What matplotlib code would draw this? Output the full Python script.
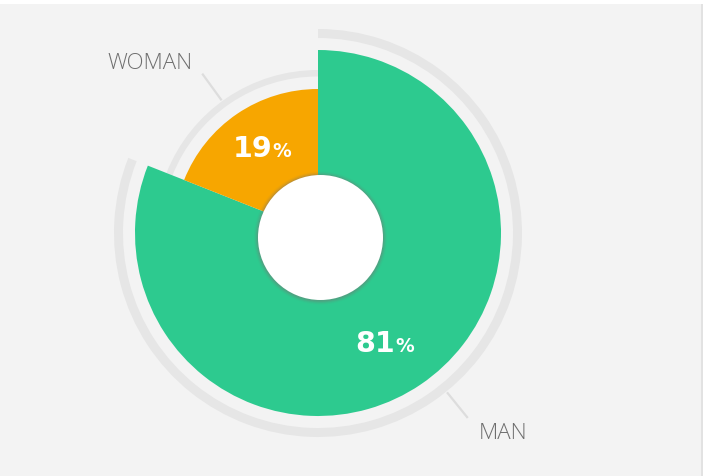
import matplotlib.pyplot as plt
import numpy as np
from matplotlib.patches import Rectangle, Circle

labels = ['MAN', 'WOMAN']
shares = [81, 19]
colors = ['#2dca8f', '#f7a600']
radii = [183, 144]
ring_radii = [204, 163]
ring_widths = [9, 6.5]
pct_radii = [129, 102]
pct_shift = [-2.7, -1.2]   # degrees
label_shift = [4.8, 1.8]   # degrees, small nudges of the leader lines

bg = '#f3f3f3'
ring_gray = '#e6e6e6'
line_gray = '#dddddd'
text_gray = '#6e6e6e'

W, H = 704, 476
cx, cy = 318, 243

fig = plt.figure(figsize=(W / 100, H / 100), dpi=100)
fig.patch.set_facecolor('white')
ax = fig.add_axes([0, 0, 1, 1])

ax.add_patch(Rectangle((0, 0), 701, H - 4, facecolor=bg, edgecolor='none', zorder=0))
ax.add_patch(Rectangle((701, 0), 2, H - 4, facecolor='#e2e2e2', edgecolor='none', zorder=0))

pie_kw = dict(center=(cx, cy), startangle=90, counterclock=False)

# thin grey arcs outside each slice
for i in range(len(shares)):
    cols = ['none'] * len(shares)
    cols[i] = ring_gray
    ax.pie(shares, colors=cols, radius=ring_radii[i],
           wedgeprops=dict(width=ring_widths[i], linewidth=0), **pie_kw)

# the slices, each with its own radius
for i in range(len(shares)):
    cols = ['none'] * len(shares)
    cols[i] = colors[i]
    ax.pie(shares, colors=cols, radius=radii[i],
           wedgeprops=dict(linewidth=0), **pie_kw)

# white hole with soft shadow
hx, hy = cx + 2.5, cy - 4.5
for r, a in [(66.5, 0.06), (65.5, 0.10), (64.5, 0.16), (63.5, 0.22)]:
    ax.add_patch(Circle((hx, hy - 0.5), r, facecolor='#777777', alpha=a,
                        edgecolor='none', zorder=5))
ax.add_patch(Circle((hx, hy), 62.5, facecolor='white', edgecolor='none', zorder=6))

# labels
total = sum(shares)
start = 90.0
for i, (lab, v) in enumerate(zip(labels, shares)):
    sweep = 360.0 * v / total
    mid = np.deg2rad(start - sweep / 2)
    start -= sweep

    # percentage text
    pa = mid + np.deg2rad(pct_shift[i])
    px = cx + pct_radii[i] * np.cos(pa) + 10
    py = cy + pct_radii[i] * np.sin(pa) - 9.5
    ax.text(px, py, f'{v}', color='white', fontsize=20.5, fontweight='bold',
            family='DejaVu Sans', ha='right', va='baseline', zorder=7)
    ax.text(px, py, '%', color='white', fontsize=13.5, fontweight='bold',
            family='DejaVu Sans', ha='left', va='baseline', zorder=7)

    # leader line + category name
    ang = mid + np.deg2rad(label_shift[i])
    r0 = ring_radii[i] + 1
    r1 = r0 + 33
    x0, y0 = cx + r0 * np.cos(ang), cy + r0 * np.sin(ang)
    x1, y1 = cx + r1 * np.cos(ang), cy + r1 * np.sin(ang)
    ax.plot([x0, x1], [y0, y1], color=line_gray, lw=1.6, zorder=3,
            solid_capstyle='butt')
    if np.cos(ang) >= 0:
        ax.text(x1 + 11, y1 - 21, lab, color=text_gray, fontsize=16,
                family='Open Sans', fontweight='light', ha='left', va='baseline')
    else:
        ax.text(x1 - 10, y1 + 5, lab, color=text_gray, fontsize=16,
                family='Open Sans', fontweight='light', ha='right', va='baseline')

ax.set_xlim(0, W)
ax.set_ylim(0, H)
ax.set_aspect('auto')
ax.axis('off')

fig.savefig('out.png', dpi=100, facecolor=fig.get_facecolor())
